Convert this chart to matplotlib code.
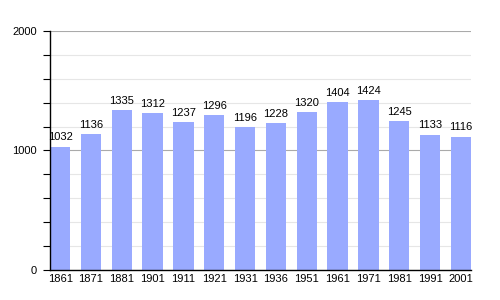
import matplotlib
matplotlib.use("Agg")
import matplotlib.pyplot as plt
from matplotlib.ticker import MultipleLocator

years = ["1861", "1871", "1881", "1901", "1911", "1921", "1931", "1936",
         "1951", "1961", "1971", "1981", "1991", "2001"]
population = [1032, 1136, 1335, 1312, 1237, 1296, 1196, 1228,
              1320, 1404, 1424, 1245, 1133, 1116]
y_ticks = [0, 1000, 2000]

plt.rcParams['font.family'] = ['Liberation Sans', 'DejaVu Sans']

fig = plt.figure(figsize=(5, 3), dpi=100)
ax = fig.add_axes([0.10, 0.10, 0.842, 0.797])

x = list(range(len(years)))
w = 0.66
ax.bar(x, population, width=w, color="#99aaff", zorder=2)
for xi, v in zip(x, population):
    ax.text(xi, v + 35, str(v), ha="center", va="bottom", fontsize=8, color="black", zorder=3)

ax.set_xlim(-w / 2, len(years) - 1 + w / 2)
ax.set_ylim(0, 2000)
ax.set_xticks(x)
ax.set_xticklabels(years, fontsize=8)
ax.set_yticks(y_ticks)
ax.set_yticklabels([str(t) for t in y_ticks], fontsize=8)
ax.yaxis.set_minor_locator(MultipleLocator(200))
ax.tick_params(axis="x", length=0, pad=3)
ax.tick_params(axis="y", which="major", length=5, width=0.8, direction="out", pad=4.5)
ax.tick_params(axis="y", which="minor", length=5, width=0.8, direction="out")
ax.grid(axis="y", which="major", color="#aaaaaa", linewidth=0.8, zorder=0)
ax.grid(axis="y", which="minor", color="#e6e6e6", linewidth=0.8, zorder=0)
ax.set_axisbelow(True)
for s in ["top", "right"]:
    ax.spines[s].set_visible(False)
ax.spines["left"].set_linewidth(1.0)
ax.spines["bottom"].set_linewidth(1.0)

fig.savefig("out.png", dpi=100)
